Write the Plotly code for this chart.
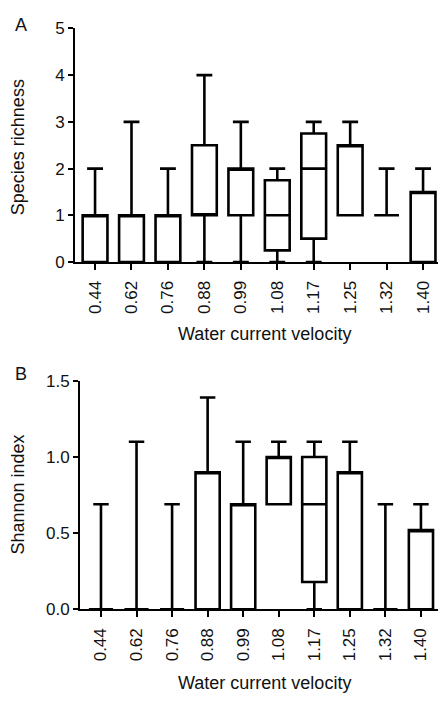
import plotly.graph_objects as go

W, H = 438, 707

categories = ["0.44", "0.62", "0.76", "0.88", "0.99", "1.08", "1.17", "1.25", "1.32", "1.40"]

# Panel A: species richness
rich_low = [0, 0, 0, 0, 0, 0, 0, 1, 1, 0]
rich_q1 = [0, 0, 0, 1, 1, 0.25, 0.5, 1, 1, 0]
rich_med = [1, 1, 1, 1, 2, 1, 2, 2.5, 1, 1.5]
rich_q3 = [1, 1, 1, 2.5, 2, 1.75, 2.75, 2.5, 1, 1.5]
rich_high = [2, 3, 2, 4, 3, 2, 3, 3, 2, 2]

# Panel B: Shannon index
shan_low = [0, 0, 0, 0, 0, 0.69, 0, 0, 0, 0]
shan_q1 = [0, 0, 0, 0, 0, 0.69, 0.18, 0, 0, 0]
shan_med = [0, 0, 0, 0.9, 0.69, 1.0, 0.69, 0.9, 0, 0.52]
shan_q3 = [0, 0, 0, 0.9, 0.69, 1.0, 1.0, 0.9, 0, 0.52]
shan_high = [0.69, 1.1, 0.69, 1.39, 1.1, 1.1, 1.1, 1.1, 0.69, 0.69]

FONT = "Arial, Liberation Sans, sans-serif"
TXT = "#111111"

def px_x(p):
    return p / W

def px_y(p):
    return 1 - p / H

fig = go.Figure()

box_style = dict(
    line=dict(color="black", width=2.6),
    fillcolor="white",
    boxpoints=False,
    width=0.68,
    whiskerwidth=0.64,
    showlegend=False,
    hoverinfo="skip",
)

fig.add_trace(go.Box(
    x=categories, q1=rich_q1, median=rich_med, q3=rich_q3,
    lowerfence=rich_low, upperfence=rich_high,
    xaxis="x", yaxis="y", **box_style))

fig.add_trace(go.Box(
    x=categories, q1=shan_q1, median=shan_med, q3=shan_q3,
    lowerfence=shan_low, upperfence=shan_high,
    xaxis="x2", yaxis="y2", **box_style))

axis_common = dict(
    showgrid=False, zeroline=False, showline=True,
    linecolor="black", linewidth=2,
    ticks="outside", tickcolor="black", tickwidth=2, ticklen=6,
    tickfont=dict(family=FONT, size=17, color=TXT),
)

fig.update_layout(
    width=W, height=H,
    margin=dict(l=0, r=0, t=0, b=0),
    paper_bgcolor="white", plot_bgcolor="white",
    xaxis=dict(domain=[px_x(75), 1], anchor="y", type="category",
               range=[-0.55, 9.41], tickangle=-90,
               ticklabelstandoff=4, **axis_common),
    yaxis=dict(domain=[px_y(260), px_y(20)], anchor="x",
               range=[0, 5], tickvals=[0, 1, 2, 3, 4, 5], ticklen=5,
               **{k: v for k, v in axis_common.items() if k != "ticklen"}),
    xaxis2=dict(domain=[px_x(80), 1], anchor="y2", type="category",
                range=[-0.59, 9.48], tickangle=-90,
                ticklabelstandoff=4, **axis_common),
    yaxis2=dict(domain=[px_y(617), px_y(382)], anchor="x2",
                range=[0, 1.5], tickvals=[0, 0.5, 1.0, 1.5],
                ticktext=["0.0", "0.5", "1.0", "1.5"], ticklen=5,
                **{k: v for k, v in axis_common.items() if k != "ticklen"}),
)

ann_font = dict(family=FONT, size=18, color=TXT)
annotations = [
    dict(text="A", x=px_x(21), y=px_y(16), xref="paper", yref="paper",
         showarrow=False, font=ann_font, xanchor="center", yanchor="middle"),
    dict(text="B", x=px_x(21), y=px_y(375), xref="paper", yref="paper",
         showarrow=False, font=ann_font, xanchor="center", yanchor="middle"),
    dict(text="Species richness", x=px_x(18), y=px_y(142), xref="paper", yref="paper",
         showarrow=False, font=ann_font, textangle=-90, xanchor="center", yanchor="middle"),
    dict(text="Shannon index", x=px_x(18), y=px_y(499), xref="paper", yref="paper",
         showarrow=False, font=ann_font, textangle=-90, xanchor="center", yanchor="middle"),
    dict(text="Water current velocity", x=px_x(264), y=px_y(334), xref="paper", yref="paper",
         showarrow=False, font=ann_font, xanchor="center", yanchor="middle"),
    dict(text="Water current velocity", x=px_x(264), y=px_y(693), xref="paper", yref="paper",
         showarrow=False, font=ann_font, xanchor="center", yanchor="middle"),
]
fig.update_layout(annotations=annotations)

fig.write_html("out.html")
